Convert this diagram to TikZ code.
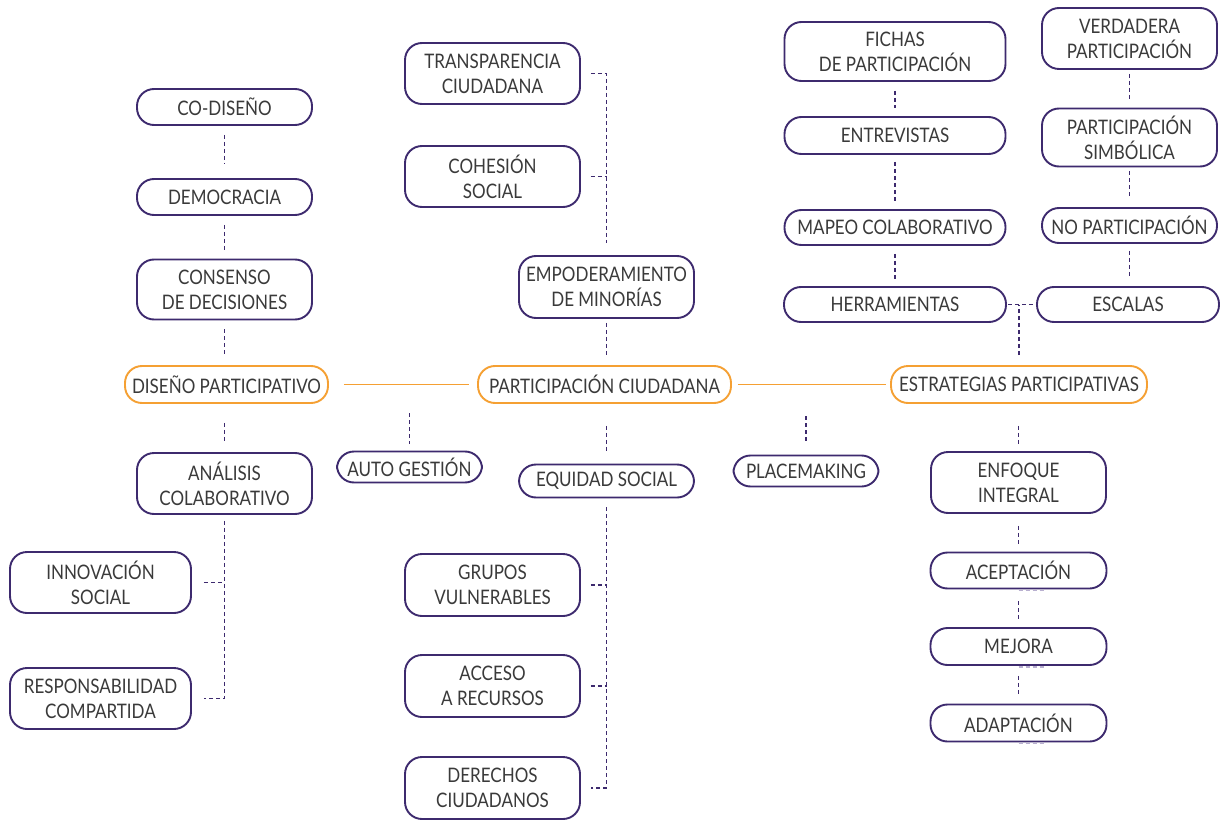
\documentclass[tikz,border=0pt]{standalone}
\usepackage{fontspec}
\setmainfont{Lato}[FakeStretch=0.85]
\definecolor{purp}{HTML}{3D2A6E}
\definecolor{orng}{HTML}{F5A033}
\definecolor{txt}{HTML}{3A3A3A}
\definecolor{faint}{HTML}{B9B0D0}
\begin{document}
\begin{tikzpicture}[x=1pt,y=-1pt,
  box/.style={draw=purp, line width=1.9pt, rounded corners=17pt, fill=white, text=txt, align=center, inner sep=0pt, font=\fontsize{20}{25}\selectfont},
  obox/.style={box, draw=orng},
  sz/.style 2 args={minimum width=#1pt, minimum height=#2pt},
  dsh/.style={draw=purp, line width=1.7pt, dash pattern=on 4pt off 3pt},
  fdsh/.style={draw=faint, line width=1.2pt, dash pattern=on 4pt off 3pt},
  oline/.style={draw=orng, line width=1.9pt}]
\fill[white] (0,0) rectangle (1220,821);
\useasboundingbox (0,0) rectangle (1220,821);
% left column
\node[box, sz={175}{36}] (codiseno) at (224.5,107) {CO-DISEÑO};
\node[box, sz={175}{36}] (democracia) at (224.5,197) {DEMOCRACIA};
\node[box, sz={175}{60}] (consenso) at (224.5,289.5) {CONSENSO\\DE DECISIONES};
\node[obox, sz={203}{37}] (disenoP) at (226.5,384.5) {DISEÑO PARTICIPATIVO};
\node[box, sz={175}{61}] (analisis) at (224.5,483.5) {ANÁLISIS\\COLABORATIVO};
\node[box, sz={181}{61}] (innovacion) at (100.5,582.5) {INNOVACIÓN\\SOCIAL};
\node[box, sz={181}{61}] (responsabilidad) at (100.5,698.5) {RESPONSABILIDAD\\COMPARTIDA};
\node[box, sz={145}{31}] (autogestion) at (409.5,467) {AUTO GESTIÓN};
% middle column
\node[box, sz={175}{61}] (transparencia) at (492.5,73.5) {TRANSPARENCIA\\CIUDADANA};
\node[box, sz={175}{61}] (cohesion) at (492.5,176.5) {COHESIÓN\\SOCIAL};
\node[box, sz={175}{62}] (empoderamiento) at (606.5,287) {EMPODERAMIENTO\\DE MINORÍAS};
\node[obox, sz={253}{37}] (partC) at (604.5,384.5) {PARTICIPACIÓN CIUDADANA};
\node[box, sz={175}{33}] (equidad) at (606.5,481) {EQUIDAD SOCIAL};
\node[box, sz={175}{62}] (grupos) at (492.5,585) {GRUPOS\\VULNERABLES};
\node[box, sz={175}{62}] (acceso) at (492.5,686) {ACCESO\\A RECURSOS};
\node[box, sz={175}{62}] (derechos) at (492.5,788) {DERECHOS\\CIUDADANOS};
\node[box, sz={145}{31}] (placemaking) at (806,471) {PLACEMAKING};
\node[obox, sz={256}{37}] (estrategias) at (1019,384.5) {ESTRATEGIAS PARTICIPATIVAS};
% right columns
\node[box, sz={221}{59}] (fichas) at (895,51.5) {FICHAS\\DE PARTICIPACIÓN};
\node[box, sz={221}{37}] (entrevistas) at (895,135.5) {ENTREVISTAS};
\node[box, sz={221}{35}] (mapeo) at (895,227.5) {MAPEO COLABORATIVO};
\node[box, sz={222}{35}] (herramientas) at (895,304.5) {HERRAMIENTAS};
\node[box, sz={175}{61}] (verdadera) at (1129.5,38.5) {VERDADERA\\PARTICIPACIÓN};
\node[box, sz={175}{58}] (simbolica) at (1129.5,137.5) {PARTICIPACIÓN\\SIMBÓLICA};
\node[box, sz={175}{35}] (nopart) at (1129.5,225.5) {NO PARTICIPACIÓN};
\node[box, sz={182}{35}] (escalas) at (1128,304.5) {ESCALAS};
\node[box, sz={175}{61}] (enfoque) at (1018.5,482.5) {ENFOQUE\\INTEGRAL};
\node[box, sz={176}{36}] (aceptacion) at (1018.5,570.5) {ACEPTACIÓN};
\node[box, sz={176}{37}] (mejora) at (1018.5,646.5) {MEJORA};
\node[box, sz={176}{37}] (adaptacion) at (1018.5,723) {ADAPTACIÓN};
% orange links
\draw[oline, shorten <=15pt, shorten >=8pt] (disenoP) -- (partC);
\draw[oline, shorten <=6pt, shorten >=4pt] (partC) -- (estrategias);
% left dashed
\draw[dsh, shorten <=9pt, shorten >=14pt] (codiseno) -- (democracia);
\draw[dsh, shorten <=9pt, shorten >=9pt] (democracia) -- (consenso);
\draw[dsh, shorten <=9pt, shorten >=9pt] (consenso) -- (disenoP.north -| consenso.south);
\draw[dsh, shorten <=19pt, shorten >=10pt] (disenoP.south -| analisis.north) -- (analisis);
\draw[dsh, shorten <=6pt] (analisis.south) |- ([xshift=12pt]responsabilidad.east);
\draw[dsh] ([xshift=12pt]innovacion.east) -- (innovacion.east -| analisis.south);
\coordinate (agTop) at (409.5,413);
\draw[dsh, shorten >=6.5pt] (agTop) -- (autogestion.north);
% middle dashed
\draw[dsh] ([xshift=10pt]transparencia.east) -| ([yshift=12pt]empoderamiento.north);
\draw[dsh] ([xshift=10pt]cohesion.east) -- (cohesion.east -| empoderamiento.north);
\draw[dsh, shorten <=4pt, shorten >=10pt] (empoderamiento.south) -- (partC.north -| empoderamiento.south);
\draw[dsh, shorten <=22pt, shorten >=13pt] (partC.south -| equidad.north) -- (equidad.north);
\draw[dsh, shorten <=9pt] (equidad.south) |- ([xshift=10pt]derechos.east);
\draw[dsh] ([xshift=10pt]grupos.east) -- (grupos.east -| equidad.south);
\draw[dsh] ([xshift=10pt]acceso.east) -- (acceso.east -| equidad.south);
\coordinate (pmTop) at (806,416);
\draw[dsh, shorten >=11pt] (pmTop) -- (placemaking.north);
% right dashed
\draw[dsh, shorten <=9pt, shorten >=8pt] (fichas) -- (entrevistas);
\draw[dsh, shorten <=7pt, shorten >=8pt] (entrevistas) -- (mapeo);
\draw[dsh, shorten <=8pt, shorten >=7pt] (mapeo) -- (herramientas);
\draw[dsh, shorten <=4pt, shorten >=6pt] (verdadera) -- (simbolica);
\draw[dsh, shorten <=4pt, shorten >=10pt] (simbolica) -- (nopart);
\draw[dsh, shorten <=7pt, shorten >=10pt] (nopart.south) -- (escalas.north -| nopart.south);
\draw[dsh, shorten <=1pt] (herramientas.east) -- (escalas.west);
\draw[dsh, shorten <=10pt] (estrategias.north) -- (estrategias.north |- herramientas.east);
\draw[dsh, shorten <=22pt, shorten >=7pt] (estrategias.south -| enfoque.north) -- (enfoque.north);
\draw[dsh, shorten <=12pt, shorten >=8pt] (enfoque) -- (aceptacion);
\draw[dsh, shorten <=12pt, shorten >=8pt] (aceptacion) -- (mejora);
\draw[dsh, shorten <=10pt, shorten >=8pt] (mejora) -- (adaptacion);
\draw[fdsh] ([yshift=-1pt]aceptacion.south) -- ++(27,0);
\draw[fdsh] ([yshift=-1pt]mejora.south) -- ++(27,0);
\draw[fdsh] ([yshift=-1pt]adaptacion.south) -- ++(27,0);
\end{tikzpicture}
\end{document}
